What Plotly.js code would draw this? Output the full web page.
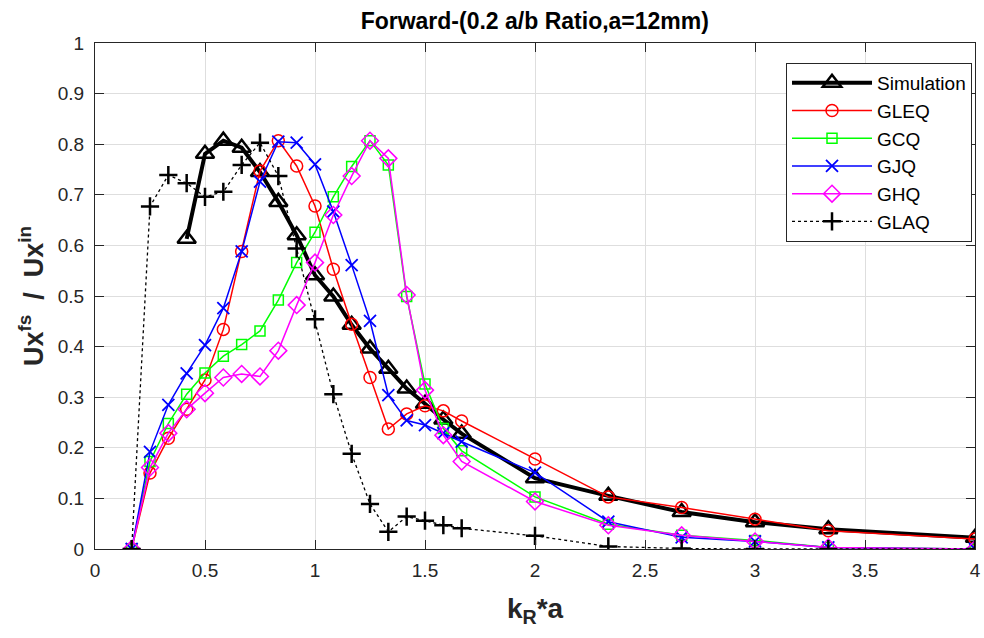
<!DOCTYPE html>
<html><head><meta charset="utf-8">
<script src="https://cdn.plot.ly/plotly-3.0.1.min.js"></script>
<style>html,body{margin:0;padding:0;background:#fff}#chart{width:984px;height:638px}</style>
</head><body><div id="chart"></div>
<script>
const xAll = [0.1667,0.25,0.3333,0.4167,0.5,0.5833,0.6667,0.75,0.8333,0.9167,1.0,1.0833,1.1667,1.25,1.3333,1.4167,1.5,1.5833,1.6667,2.0,2.3333,2.6667,3.0,3.3333,4.0];
const xSim = [0.4167,0.5,0.5833,0.6667,0.75,0.8333,0.9167,1.0,1.0833,1.1667,1.25,1.3333,1.4167,1.5,1.5833,1.6667,2.0,2.3333,2.6667,3.0,3.3333,4.0];
const simulation = [0.613,0.781,0.807,0.793,0.745,0.686,0.620,0.541,0.499,0.443,0.396,0.356,0.317,0.287,0.256,0.228,0.140,0.105,0.073,0.053,0.039,0.022];
const gleq = [0,0.150,0.219,0.276,0.334,0.434,0.588,0.747,0.807,0.757,0.678,0.553,0.444,0.339,0.237,0.267,0.283,0.273,0.253,0.178,0.103,0.082,0.059,0.036,0.020];
const gcq  = [0,0.173,0.248,0.306,0.348,0.381,0.404,0.431,0.492,0.566,0.626,0.696,0.756,0.807,0.759,0.499,0.326,0.238,0.194,0.103,0.049,0.027,0.017,0.003,0];
const gjq  = [0,0.192,0.285,0.347,0.403,0.476,0.588,0.726,0.805,0.803,0.760,0.667,0.561,0.451,0.304,0.254,0.245,0.229,0.212,0.151,0.054,0.023,0.015,0.003,0];
const ghq  = [0,0.161,0.229,0.276,0.308,0.339,0.346,0.341,0.392,0.482,0.566,0.660,0.737,0.807,0.772,0.502,0.314,0.225,0.173,0.094,0.047,0.027,0.015,0.003,0];
const glaq = [0,0.677,0.739,0.723,0.696,0.706,0.759,0.803,0.737,0.594,0.454,0.306,0.188,0.089,0.034,0.064,0.056,0.047,0.041,0.026,0.005,0.001,0,0,0];

const FONT = 'Liberation Sans, Arial, Helvetica, sans-serif';
const traces = [
  {x:xSim,y:simulation,name:'Simulation',mode:'lines+markers',line:{color:'#000',width:4},
   marker:{symbol:'triangle-up-open',size:16,color:'#000',line:{width:2.5,color:'#000'}}},
  {x:xAll,y:gleq,name:'GLEQ',mode:'lines+markers',line:{color:'#ff0000',width:1.5},
   marker:{symbol:'circle-open',size:12,color:'#ff0000',line:{width:1.5,color:'#ff0000'}}},
  {x:xAll,y:gcq,name:'GCQ',mode:'lines+markers',line:{color:'#00ff00',width:1.5},
   marker:{symbol:'square-open',size:10,color:'#00ff00',line:{width:1.5,color:'#00ff00'}}},
  {x:xAll,y:gjq,name:'GJQ',mode:'lines+markers',line:{color:'#0000ff',width:1.5},
   marker:{symbol:'x-thin-open',size:12,color:'#0000ff',line:{width:1.8,color:'#0000ff'}}},
  {x:xAll,y:ghq,name:'GHQ',mode:'lines+markers',line:{color:'#ff00ff',width:1.5},
   marker:{symbol:'diamond-open',size:13,color:'#ff00ff',line:{width:1.5,color:'#ff00ff'}}},
  {x:xAll,y:glaq,name:'GLAQ',mode:'lines+markers',line:{color:'#000',width:1.3,dash:'dot'},
   marker:{symbol:'cross-thin-open',size:13,color:'#000',line:{width:2.5,color:'#000'}}}
];

const axisCommon = {showline:true,linecolor:'#262626',linewidth:1.2,mirror:'ticks',ticks:'inside',ticklen:9,
  tickcolor:'#262626',showgrid:true,gridcolor:'#dedede',gridwidth:1,zeroline:false,
  tickfont:{family:FONT,size:19,color:'#262626'}};

const layout = {
  width:984,height:638,
  margin:{l:95,r:9,t:43,b:89},
  paper_bgcolor:'#fff',plot_bgcolor:'#fff',
  title:{text:'<b>Forward-(0.2 a/b Ratio,a=12mm)</b>',x:0.5435,xanchor:'center',y:0.967,yanchor:'middle',
    font:{family:FONT,size:23,color:'#000'}},
  xaxis:Object.assign({},axisCommon,{range:[0,4],dtick:0.5,tick0:0,ticklabelstandoff:4,
    title:{text:'<b>k<sub>R</sub>*a</b>',standoff:18,font:{family:FONT,size:28,color:'#262626'}}}),
  yaxis:Object.assign({},axisCommon,{range:[0,1],dtick:0.1,tick0:0,ticklabelstandoff:6,
    title:{text:'<b>Ux<sup>fs</sup>  /  Ux<sup>in</sup></b>',standoff:6,font:{family:FONT,size:27,color:'#262626'}}}),
  legend:{x:0.9966,xanchor:'right',y:0.9605,yanchor:'top',bgcolor:'#fff',bordercolor:'#262626',borderwidth:1,
    font:{family:FONT,size:19,color:'#000'},itemwidth:80,tracegroupgap:0},
  showlegend:true
};
Plotly.newPlot('chart',traces,layout,{displayModeBar:false});
</script></body></html>
